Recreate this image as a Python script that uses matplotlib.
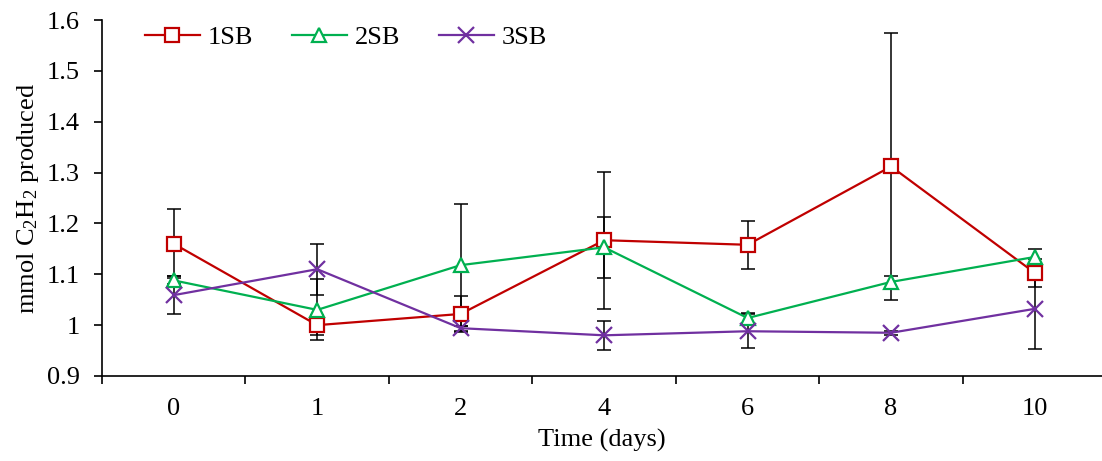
import numpy as np
import matplotlib.pyplot as plt
from matplotlib.ticker import FixedLocator, NullFormatter

plt.rcParams['font.family'] = ['Liberation Serif', 'DejaVu Serif']
plt.rcParams['mathtext.fontset'] = 'custom'
plt.rcParams['mathtext.rm'] = 'Liberation Serif'
plt.rcParams['mathtext.it'] = 'Liberation Serif:italic'

days = ['0', '1', '2', '4', '6', '8', '10']

sb1 = [1.160, 1.000, 1.022, 1.167, 1.158, 1.312, 1.103]
sb1_err = [0.068, 0.020, 0.035, 0.135, 0.047, 0.263, 0.028]

sb2 = [1.088, 1.030, 1.118, 1.153, 1.014, 1.085, 1.134]
sb2_err = [0.008, 0.060, 0.120, 0.060, 0.010, 0.011, 0.015]

sb3 = [1.059, 1.110, 0.994, 0.980, 0.988, 0.985, 1.032]
sb3_err = [0.037, 0.050, 0.005, 0.028, 0.033, 0.004, 0.079]

series = [
    ('1SB', sb1, sb1_err, '#C00000', 's'),
    ('2SB', sb2, sb2_err, '#00B050', '^'),
    ('3SB', sb3, sb3_err, '#7030A0', 'x'),
]

fs = 19

fig = plt.figure(figsize=(11.02, 4.61), dpi=100)
ax = fig.add_axes([102 / 1102, 1 - 376 / 461, 1000 / 1102, 356 / 461])

x = np.arange(len(days))
for name, vals, err, color, marker in series:
    ax.errorbar(x, vals, yerr=err, fmt='none', ecolor='black', elinewidth=1.1,
                capsize=5, capthick=1.1, zorder=2)
for name, vals, err, color, marker in series:
    ax.plot(x, vals, color=color, lw=1.6, marker=marker, markersize=10 if marker != 'x' else 11,
            markerfacecolor='white' if marker != 'x' else color, markeredgecolor=color,
            markeredgewidth=1.6, label=name, zorder=3)

ax.set_xlim(-0.5, 6.47)
ax.set_ylim(0.9, 1.6)
ax.set_yticks(np.arange(0.9, 1.61, 0.1))
ax.set_yticklabels(['0.9', '1', '1.1', '1.2', '1.3', '1.4', '1.5', '1.6'])
ax.set_xticks(x)
ax.set_xticklabels(days)
ax.tick_params(axis='x', which='major', length=0, pad=16, labelsize=fs)
ax.xaxis.set_minor_locator(FixedLocator(np.arange(-0.5, 6.6, 1.0)))
ax.xaxis.set_minor_formatter(NullFormatter())
ax.tick_params(axis='x', which='minor', length=6, width=1.2, direction='out')
ax.tick_params(axis='y', length=6, width=1.2, direction='out', labelsize=fs, pad=10)

for s in ['top', 'right']:
    ax.spines[s].set_visible(False)
for s in ['left', 'bottom']:
    ax.spines[s].set_linewidth(1.2)

ax.set_xlabel('Time (days)', fontsize=fs, labelpad=6)
ax.set_ylabel('mmol C$_2$H$_2$ produced', fontsize=fs, labelpad=4)

ax.legend(loc='upper left', bbox_to_anchor=(0.019, 1.051), ncol=3, frameon=False,
          fontsize=fs, handlelength=2.1, handletextpad=0.3, columnspacing=1.45)

fig.savefig('out.png', dpi=100)
